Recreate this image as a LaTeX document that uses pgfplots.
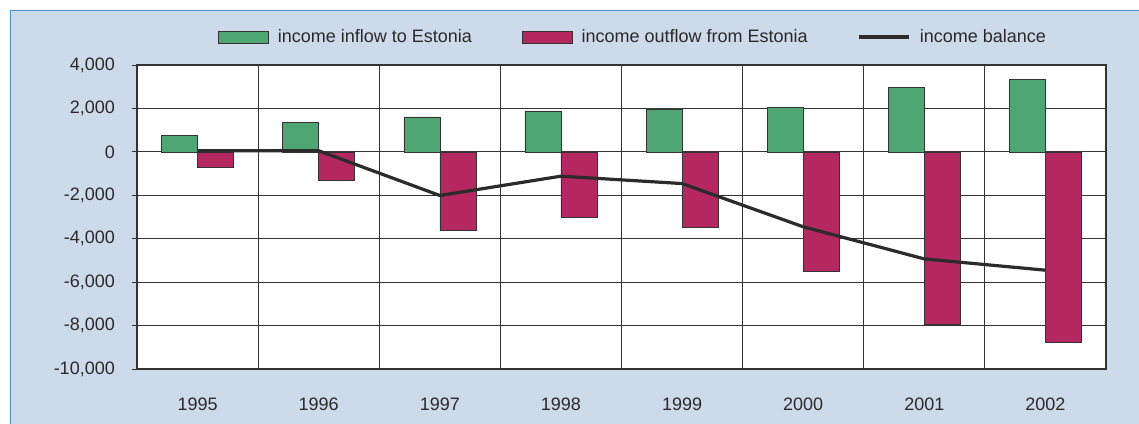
\documentclass[border=0pt]{standalone}
\usepackage{pgfplots}
\pgfplotsset{compat=1.18}
\usepackage{fontspec}
\setmainfont{Liberation Sans}
\definecolor{panel}{HTML}{CDDAEA}
\definecolor{frameblue}{HTML}{4A90CC}
\definecolor{ingreen}{HTML}{4EA773}
\definecolor{outred}{HTML}{B5275F}
\definecolor{balline}{HTML}{2B2B2B}
\definecolor{txt}{HTML}{2A2A2A}
\definecolor{gridc}{HTML}{333333}
\begin{document}
\begin{tikzpicture}
\useasboundingbox (0,0) rectangle (1139bp,424bp);
\fill[white] (0,0) rectangle (1139bp,424bp);
\fill[panel] (10bp,0) rectangle (1139bp,413bp);
\draw[frameblue, line width=1bp] (10bp,0) -- (10bp,413bp) -- (1139bp,413bp);
\begin{axis}[
  at={(137bp,55bp)}, anchor=south west,
  scale only axis, width=969bp, height=304bp,
  xmin=-0.5, xmax=7.5, ymin=-10000, ymax=4000,
  axis background/.style={fill=white},
  scaled y ticks=false,
  xtick={0,1,2,3,4,5,6,7},
  xticklabels={1995,1996,1997,1998,1999,2000,2001,2002},
  minor xtick={0.5,1.5,2.5,3.5,4.5,5.5,6.5},
  xminorgrids=true, ymajorgrids=true,
  ytick={-10000,-8000,-6000,-4000,-2000,0,2000,4000},
  yticklabels={{-10,000},{-8,000},{-6,000},{-4,000},{-2,000},{0},{2,000},{4,000}},
  tick align=outside, ytick pos=left, xtick pos=bottom,
  major tick length=5bp, minor tick length=0pt,
  xtick style={draw=none},
  ytick style={gridc, line width=0.8bp},
  grid style={gridc, line width=0.8bp},
  minor grid style={gridc, line width=0.8bp},
  axis line style={gridc, line width=1.2bp},
  tick label style={font=\fontsize{18bp}{21bp}\selectfont, text=txt},
  yticklabel style={inner sep=0pt, xshift=-17bp},
  xticklabel style={inner sep=0pt, yshift=-24bp},
  legend style={at={(0.0836,1.092)}, anchor=west, draw=none, fill=none,
    inner sep=0pt, font=\fontsize{18bp}{21bp}\selectfont, text=txt,
    nodes={inner sep=0pt},
    /tikz/every odd column/.append style={column sep=9bp},
    /tikz/every even column/.append style={column sep=50bp}},
  legend columns=3, legend cell align=left,
]
\addplot[ybar, bar width=36bp, bar shift=-18bp, fill=ingreen, draw=gridc, line width=0.6bp,
  legend image code/.code={\draw[fill=ingreen, draw=gridc, line width=0.6bp] (0bp,-6bp) rectangle (50bp,6bp);}]
  coordinates {(0,750) (1,1350) (2,1610) (3,1890) (4,1980) (5,2040) (6,2980) (7,3330)};
\addlegendentry{income inflow to Estonia}
\addplot[ybar, bar width=36bp, bar shift=18bp, fill=outred, draw=gridc, line width=0.6bp,
  legend image code/.code={\draw[fill=outred, draw=gridc, line width=0.6bp] (0bp,-6bp) rectangle (50bp,6bp);}]
  coordinates {(0,-700) (1,-1320) (2,-3630) (3,-3020) (4,-3470) (5,-5510) (6,-7930) (7,-8790)};
\addlegendentry{income outflow from Estonia}
\addplot[sharp plot, balline, line width=3.2bp, mark=none,
  legend image code/.code={\draw[balline, line width=3.2bp] (0bp,0bp) -- (50bp,0bp);}]
  coordinates {(0,50) (1,50) (2,-2010) (3,-1120) (4,-1460) (5,-3450) (6,-4930) (7,-5450)};
\addlegendentry{income balance}
\draw[gridc, line width=2.2bp] (rel axis cs:0,1) -- (rel axis cs:1,1);
\end{axis}
\end{tikzpicture}
\end{document}
